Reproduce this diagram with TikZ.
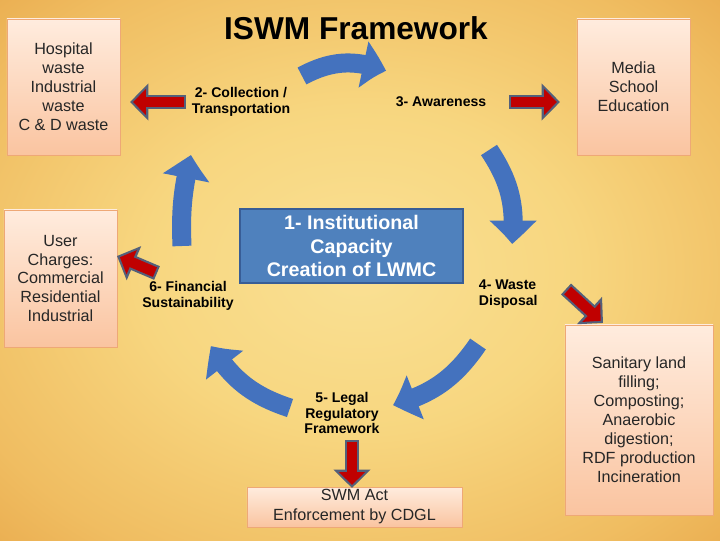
\documentclass[tikz,border=0pt]{standalone}
\usepackage{fontspec}
\setmainfont{Liberation Sans}
\usetikzlibrary{arrows.meta,bending,positioning}

\definecolor{cycblue}{RGB}{68,114,190}
\definecolor{instblue}{RGB}{79,129,189}
\definecolor{instedge}{RGB}{56,93,150}
\definecolor{boxtop}{RGB}{255,236,222}
\definecolor{boxbot}{RGB}{250,196,160}
\definecolor{boxedge}{RGB}{238,168,118}
\definecolor{arrred}{RGB}{192,0,0}
\definecolor{arredge}{RGB}{84,96,122}

\pgfdeclareradialshading{parchment}{\pgfpoint{0bp}{0bp}}{rgb(0bp)=(0.98,0.88,0.58); rgb(15bp)=(0.97,0.84,0.5); rgb(30bp)=(0.94,0.74,0.38); rgb(42bp)=(0.9,0.63,0.26); rgb(50bp)=(0.84,0.54,0.18); rgb(60bp)=(0.72,0.42,0.1); rgb(72bp)=(0.6,0.32,0.05)}

\begin{document}
\begin{tikzpicture}[x=0.025cm, y=0.025cm,
    tbox/.style={draw=boxedge, top color=boxtop, bottom color=boxbot, align=center, text=black!85, font=\fontsize{11.5}{13.5}\selectfont, inner sep=0pt},
    lbl/.style={align=center, font=\fontsize{10}{11.3}\selectfont\bfseries},
    cyc/.style={cycblue, line width=4.75mm, -{Triangle[width=11.25mm, length=6mm, bend]}},
    redout/.style={arredge, line width=3.7mm, -{Triangle[width=9mm, length=4.6mm]}},
    redin/.style={arrred, line width=2.6mm, shorten <=0.55mm, shorten >=0.79mm, -{Triangle[width=6.4mm, length=3.2mm]}}]
    \useasboundingbox (0,0) rectangle (720,-540);
    \shade[shading=parchment] (0,0) rectangle (720,-540);

    % the cycle
    \coordinate (c1a) at (302,-76);  \coordinate (c1b) at (386,-71);
    \coordinate (c2a) at (489,-150); \coordinate (c2b) at (512,-244);
    \coordinate (c3a) at (478,-344); \coordinate (c3b) at (393,-405);
    \coordinate (c4a) at (290,-408); \coordinate (c4b) at (211,-346);
    \coordinate (c5a) at (182,-246); \coordinate (c5b) at (191,-155);
    \draw[cyc] (c1a) to[bend left=25] (c1b);
    \draw[cyc] (c2a) to[bend left=20] (c2b);
    \draw[cyc] (c3a) to[bend left=20] (c3b);
    \draw[cyc] (c4a) to[bend left=20] (c4b);
    \draw[cyc] (c5a) to[bend left=8] (c5b);

    \node[font=\fontsize{22.5}{27}\selectfont\bfseries] (title) at (356,-28) {ISWM Framework};

    \node[draw=instedge, line width=1pt, fill=instblue, text=white, align=center,
          font=\fontsize{14}{16.7}\selectfont\bfseries, minimum width=55.75mm,
          minimum height=18.5mm, inner sep=0pt] (inst) at (351.5,-246) {1- Institutional\\Capacity\\Creation of LWMC};

    % boxes
    \node[tbox, minimum width=28.25mm, minimum height=34mm] (hosp) at (63.5,-87) {Hospital\\waste\\Industrial\\waste\\C \& D waste};
    \node[tbox, minimum width=28.25mm, minimum height=34mm] (media) at (633.5,-87) {Media\\School\\Education};
    \node[tbox, minimum width=28.25mm, minimum height=34.25mm] (user) at (60.5,-278.5) {User\\Charges:\\Commercial\\Residential\\Industrial};
    \node[tbox, minimum width=37mm, minimum height=47.5mm] (sanit) at (639,-420) {Sanitary land\\filling;\\Composting;\\Anaerobic\\digestion;\\RDF production\\Incineration};
    \node[tbox, minimum width=53.75mm, minimum height=10mm, font=\fontsize{11.5}{14.2}\selectfont] (swm) at (354.5,-507) {SWM Act\\Enforcement by CDGL};

    % steps
    \node[lbl] (coll) at (241,-102) {2- Collection /\\Transportation};
    \node[lbl] (aware) at (441,-102) {3- Awareness};
    \node[lbl, align=left, anchor=west] (disp) at (474,-294) {4- Waste\\Disposal};
    \node[lbl] (legal) at (342,-413) {5- Legal\\Regulatory\\Framework};
    \node[lbl] (fin) at (188,-296) {6- Financial\\Sustainability};

    % red arrows
    \coordinate (r2a) at (186,-102); \coordinate (r2b) at (130,-102);
    \coordinate (r3a) at (509,-102); \coordinate (r3b) at (560,-102);
    \coordinate (r4a) at (566,-289); \coordinate (r4b) at (603,-323);
    \coordinate (r5a) at (352,-440); \coordinate (r5b) at (352,-488);
    \coordinate (r6a) at (157,-273); \coordinate (r6b) at (117,-256);
    \draw[redout] (r2a) -- (r2b); \draw[redin] (r2a) -- (r2b);
    \draw[redout] (r3a) -- (r3b); \draw[redin] (r3a) -- (r3b);
    \draw[redout] (r4a) -- (r4b); \draw[redin] (r4a) -- (r4b);
    \draw[redout] (r5a) -- (r5b); \draw[redin] (r5a) -- (r5b);
    \draw[redout] (r6a) -- (r6b); \draw[redin] (r6a) -- (r6b);
\end{tikzpicture}
\end{document}
